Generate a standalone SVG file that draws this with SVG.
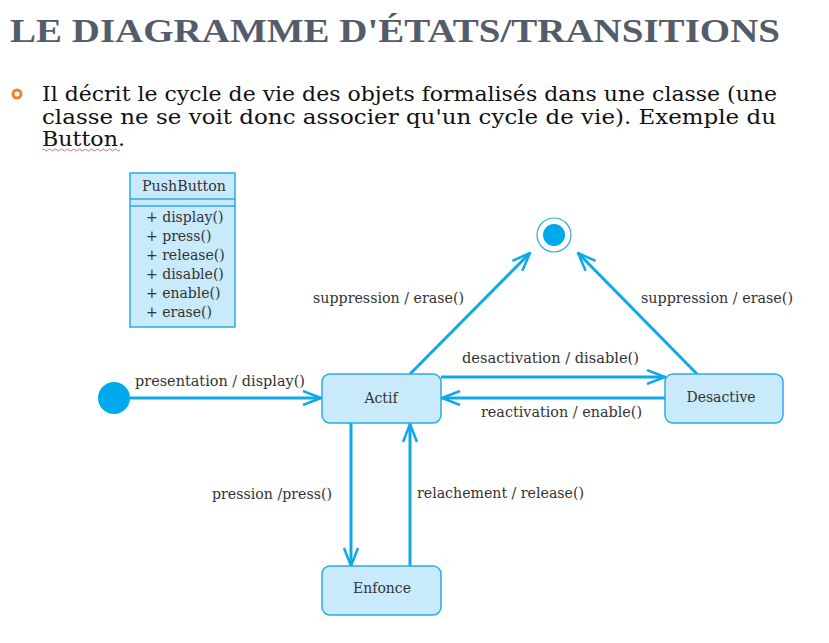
<svg xmlns="http://www.w3.org/2000/svg" width="829" height="643" viewBox="0 0 829 643">
<style>
.title{font-family:"Liberation Serif",serif;font-weight:bold;font-size:33px;fill:#555c69}
.bodytxt{font-family:"DejaVu Serif",serif;font-size:21px;fill:#111}
.lbl{font-family:"DejaVu Serif",serif;font-size:14px;fill:#333}
.node{fill:#c9eafb;stroke:#2aaae6;stroke-width:1.5}
.ntxt{font-family:"DejaVu Serif",serif;font-size:14px;fill:#333;text-anchor:middle}
.cls{font-family:"DejaVu Serif",serif;font-size:14px;fill:#333}
.edge{stroke:#10a8e8;stroke-width:3;fill:none}
</style>
<defs>
<marker id="arr" viewBox="0 0 20 16" refX="19" refY="8" markerWidth="20" markerHeight="16" markerUnits="userSpaceOnUse" orient="auto">
<path d="M1,1 L19,8 L1,15" fill="none" stroke="#10a8e8" stroke-width="2.5"/>
</marker>
</defs>
<rect width="829" height="643" fill="#fff"/>
<text class="title" x="10" y="42" textLength="770" lengthAdjust="spacingAndGlyphs">LE DIAGRAMME D'ÉTATS/TRANSITIONS</text>
<circle cx="17" cy="94" r="4" fill="none" stroke="#f0822a" stroke-width="3"/>
<text class="bodytxt" x="42" y="101" textLength="735" lengthAdjust="spacingAndGlyphs">Il décrit le cycle de vie des objets formalisés dans une classe (une</text>
<text class="bodytxt" x="42" y="124" textLength="734" lengthAdjust="spacingAndGlyphs">classe ne se voit donc associer qu'un cycle de vie).  Exemple du</text>
<text class="bodytxt" x="42" y="146" textLength="83" lengthAdjust="spacingAndGlyphs">Button.</text>
<path d="M42,150 q1.5,-2 3,0 t3,0 t3,0 t3,0 t3,0 t3,0 t3,0 t3,0 t3,0 t3,0 t3,0 t3,0 t3,0 t3,0 t3,0 t3,0 t3,0 t3,0 t3,0 t3,0 t3,0 t3,0 t3,0 t3,0 t3,0 t3,0" fill="none" stroke="#d44" stroke-width="0.8"/>

<g id="PushButton">
<rect x="130" y="173" width="105" height="154" fill="#c9eafb" stroke="#2aaae6" stroke-width="1.5"/>
<line x1="130" y1="199" x2="235" y2="199" stroke="#2aaae6" stroke-width="1.5"/>
<line x1="130" y1="206" x2="235" y2="206" stroke="#2aaae6" stroke-width="1.5"/>
<text class="cls" x="184" y="191" text-anchor="middle" textLength="84" lengthAdjust="spacingAndGlyphs">PushButton</text>
<text class="cls" x="146" y="222">+ display()</text>
<text class="cls" x="146" y="241">+ press()</text>
<text class="cls" x="146" y="260">+ release()</text>
<text class="cls" x="146" y="279">+ disable()</text>
<text class="cls" x="146" y="298">+ enable()</text>
<text class="cls" x="146" y="317">+ erase()</text>
</g>

<g id="connectors">
<line class="edge" x1="130" y1="398" x2="321" y2="398" marker-end="url(#arr)"/>
<line class="edge" x1="441" y1="377" x2="665" y2="377" marker-end="url(#arr)"/>
<line class="edge" x1="665" y1="398" x2="442" y2="398" marker-end="url(#arr)"/>
<line class="edge" x1="410" y1="374" x2="530" y2="253" marker-end="url(#arr)"/>
<line class="edge" x1="697" y1="374" x2="578" y2="253" marker-end="url(#arr)"/>
<line class="edge" x1="351" y1="423" x2="351" y2="566" marker-end="url(#arr)"/>
<line class="edge" x1="410" y1="566" x2="410" y2="424" marker-end="url(#arr)"/>
<text class="lbl" x="135" y="386" textLength="170" lengthAdjust="spacingAndGlyphs">presentation / display()</text>
<text class="lbl" x="313" y="303" textLength="151" lengthAdjust="spacingAndGlyphs">suppression / erase()</text>
<text class="lbl" x="641" y="303" textLength="152" lengthAdjust="spacingAndGlyphs">suppression / erase()</text>
<text class="lbl" x="462" y="363" textLength="177" lengthAdjust="spacingAndGlyphs">desactivation / disable()</text>
<text class="lbl" x="481" y="417" textLength="161" lengthAdjust="spacingAndGlyphs">reactivation / enable()</text>
<text class="lbl" x="212" y="499" textLength="120" lengthAdjust="spacingAndGlyphs">pression /press()</text>
<text class="lbl" x="417" y="498" textLength="167" lengthAdjust="spacingAndGlyphs">relachement / release()</text>
</g>

<g id="initial">
<circle cx="114" cy="398" r="16" fill="#00a8ec"/>
</g>
<g id="final">
<circle cx="554" cy="235" r="17" fill="#fff" stroke="#2aaae6" stroke-width="1.2"/>
<circle cx="554" cy="235" r="11" fill="#00a8ec"/>
</g>
<g id="Actif">
<rect class="node" x="322" y="374" width="119" height="49" rx="8"/>
<text class="ntxt" x="381" y="403">Actif</text>
</g>
<g id="Desactive">
<rect class="node" x="665" y="374" width="118" height="49" rx="8"/>
<text class="ntxt" x="721" y="402">Desactive</text>
</g>
<g id="Enfonce">
<rect class="node" x="322" y="566" width="119" height="49" rx="8"/>
<text class="ntxt" x="382" y="593">Enfonce</text>
</g>
</svg>
